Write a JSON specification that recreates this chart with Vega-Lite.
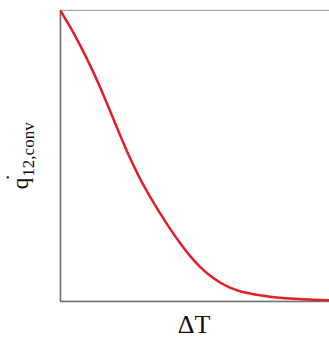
{
  "$schema": "https://vega.github.io/schema/vega-lite/v6.json",
  "autosize": "none",
  "padding": {"left": 60, "top": 10, "right": 0, "bottom": 39},
  "width": 274,
  "height": 291,
  "background": "white",
  "config": {
    "view": {"stroke": "#aaaaaa", "strokeWidth": 1.2},
    "axis": {"grid": false, "ticks": false, "labels": false, "domainColor": "#707070", "domainWidth": 1.5, "titleFont": "Liberation Serif", "titleFontWeight": "normal", "titleColor": "#111111"}
  },
  "data": {"values": [
    {"dt": 0, "q": 291},
    {"dt": 10, "q": 274.3},
    {"dt": 20, "q": 255.9},
    {"dt": 30, "q": 235.9},
    {"dt": 40, "q": 214.0},
    {"dt": 50, "q": 190.3},
    {"dt": 60, "q": 166.0},
    {"dt": 70, "q": 142.9},
    {"dt": 80, "q": 122.4},
    {"dt": 90, "q": 104.4},
    {"dt": 100, "q": 87.9},
    {"dt": 110, "q": 72.4},
    {"dt": 120, "q": 58.0},
    {"dt": 130, "q": 45.1},
    {"dt": 140, "q": 34.2},
    {"dt": 150, "q": 25.4},
    {"dt": 160, "q": 18.5},
    {"dt": 170, "q": 13.3},
    {"dt": 180, "q": 9.8},
    {"dt": 190, "q": 7.5},
    {"dt": 200, "q": 5.7},
    {"dt": 210, "q": 4.3},
    {"dt": 220, "q": 3.3},
    {"dt": 230, "q": 2.5},
    {"dt": 240, "q": 1.9},
    {"dt": 250, "q": 1.4},
    {"dt": 260, "q": 1.0},
    {"dt": 274, "q": 0.6}
  ]},
  "layer": [
    {
      "mark": {"type": "line", "color": "#e41e26", "strokeWidth": 2.5, "interpolate": "monotone", "clip": true},
      "encoding": {
        "x": {"field": "dt", "type": "quantitative", "scale": {"domain": [0, 274], "nice": false, "zero": false},
              "axis": {"title": "ΔT", "titleFontSize": 26, "titleX": 133.5, "titleY": 31, "titleBaseline": "alphabetic", "titleAlign": "center"}},
        "y": {"field": "q", "type": "quantitative", "scale": {"domain": [0, 291], "nice": false, "zero": false},
              "axis": {"title": "q", "titleFontSize": 23, "titleAngle": -90, "titleX": -32.5, "titleY": 173, "titleBaseline": "alphabetic", "titleAlign": "center"}}
      }
    },
    {
      "mark": {"type": "line", "strokeOpacity": 0},
      "encoding": {
        "x": {"field": "dt", "type": "quantitative"},
        "y": {"field": "q", "type": "quantitative",
              "axis": {"orient": "left", "domain": false, "title": "12,conv", "titleFontSize": 17, "titleAngle": -90, "titleX": -26.5, "titleY": 139, "titleBaseline": "alphabetic", "titleAlign": "center"}}
      }
    },
    {
      "mark": {"type": "line", "strokeOpacity": 0},
      "encoding": {
        "x": {"field": "dt", "type": "quantitative"},
        "y": {"field": "q", "type": "quantitative",
              "axis": {"orient": "left", "domain": false, "title": "˙", "titleFontSize": 23, "titleAngle": -90, "titleX": -38.5, "titleY": 167, "titleBaseline": "alphabetic", "titleAlign": "center"}}
      }
    }
  ],
  "resolve": {"axis": {"y": "independent"}}
}
